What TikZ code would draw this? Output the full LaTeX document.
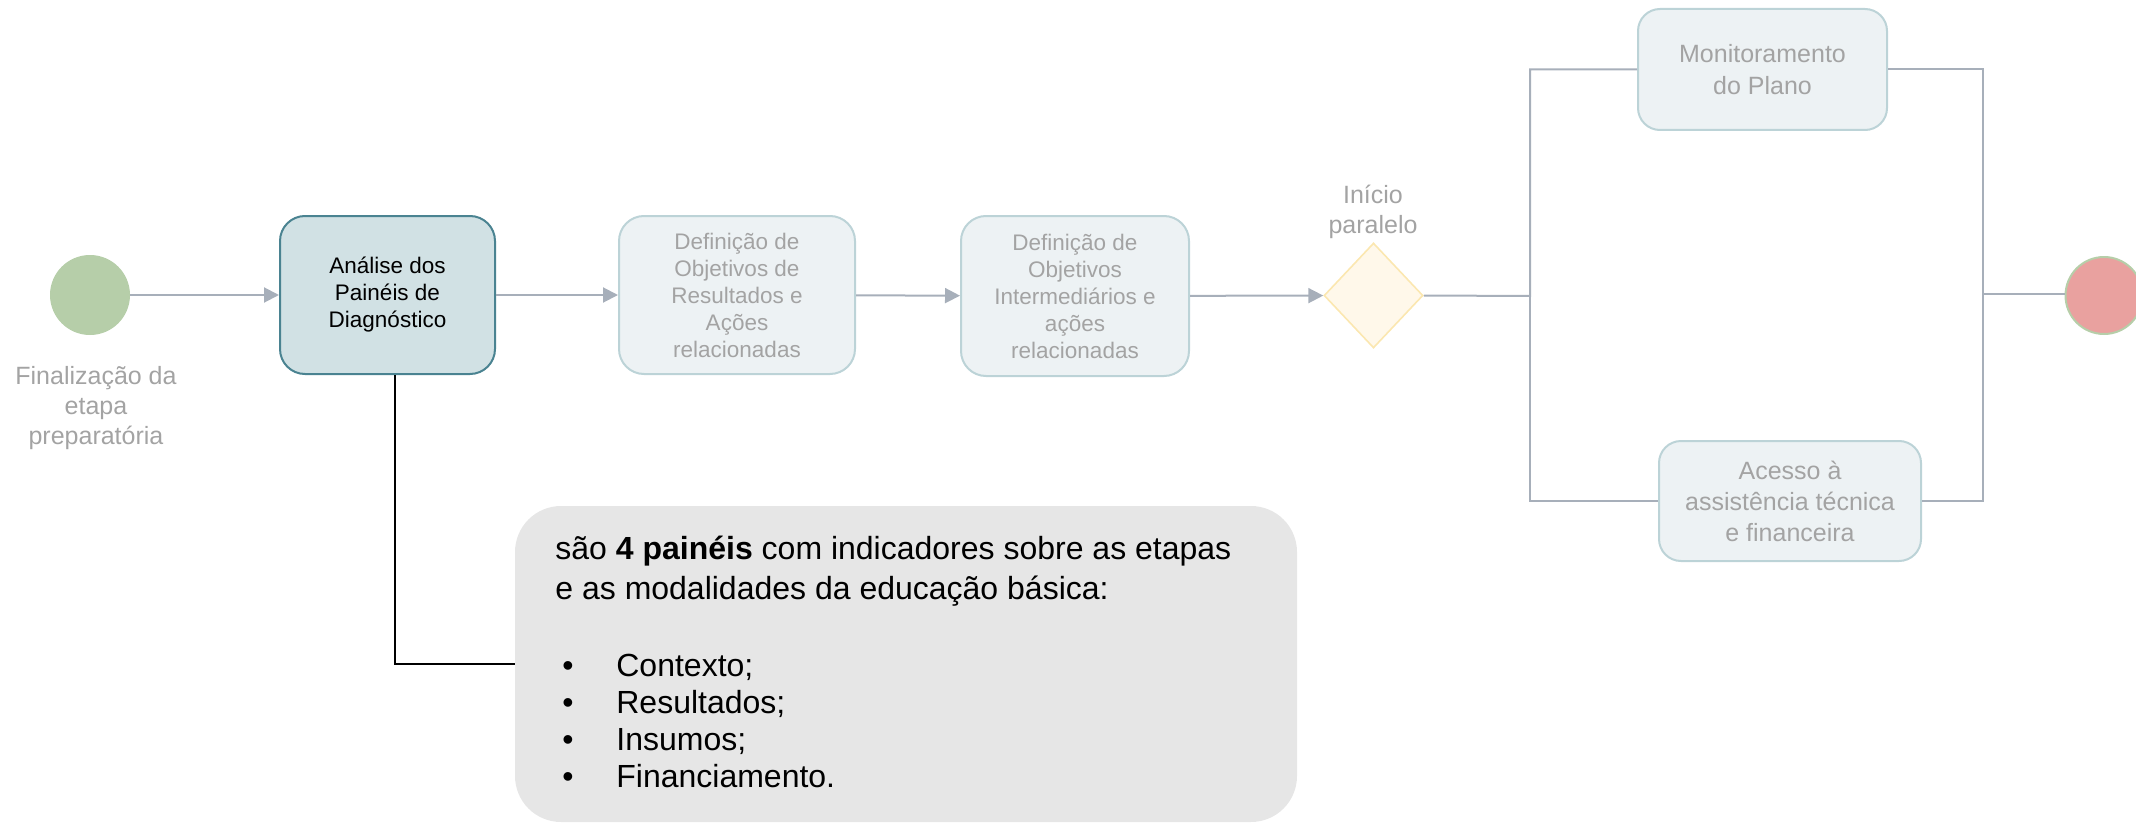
\documentclass[tikz,border=0pt]{standalone}
\usepackage{fontspec}
\setmainfont{Liberation Sans}
\usetikzlibrary{arrows.meta,shapes.geometric}
\definecolor{lineg}{HTML}{A7AFBA}
\definecolor{txtg}{HTML}{A3A3A3}
\definecolor{startg}{HTML}{B6CEA9}
\definecolor{endr}{HTML}{E9A19F}
\definecolor{afill}{HTML}{D1E1E4}
\definecolor{adraw}{HTML}{4A8391}
\definecolor{bfill}{HTML}{EDF2F4}
\definecolor{bdraw}{HTML}{BCD3D7}
\definecolor{dfill}{HTML}{FFF8EA}
\definecolor{ddraw}{HTML}{FBE7B0}
\definecolor{notefill}{HTML}{E6E6E6}
\tikzset{
  flow/.style={draw=lineg, line width=1pt},
  flowarrow/.style={flow, -{Triangle[length=7.5pt,width=7.5pt]}},
  taskbox/.style={rectangle, rounded corners=12.5pt, draw=bdraw, fill=bfill, line width=1pt,
    inner sep=0pt, align=center, text=txtg, font=\fontsize{11.25}{13.5}\selectfont},
  mainbox/.style={taskbox, draw=adraw, fill=afill, text=black},
  sidebox/.style={taskbox, rounded corners=11pt, font=\fontsize{12.5}{15.5}\selectfont},
  lbl/.style={align=center, text=txtg, inner sep=0pt, font=\fontsize{12.5}{15}\selectfont},
  notebox/.style={rectangle, rounded corners=23pt, fill=notefill, inner sep=0pt,
    minimum width=391pt, minimum height=158pt},
}
\begin{document}
\begin{tikzpicture}[x=0.5pt,y=-0.5pt]
\useasboundingbox (0,0) rectangle (2136,824);
% events
\node[circle, fill=startg, minimum size=40pt, inner sep=0pt] (start) at (90,295) {};
\node[lbl] (startlbl) at (96,408) {Finalização da\\etapa\\preparatória};
\node[circle, fill=endr, draw=startg, line width=1pt, minimum size=38.5pt, inner sep=0pt] (end) at (2104,295.5) {};
% tasks
\node[mainbox, minimum width=107.5pt, minimum height=79pt] (A) at (387.5,295) {Análise dos\\Painéis de\\Diagnóstico};
\node[taskbox, minimum width=118pt, minimum height=79pt] (D1) at (737,295) {Definição de\\Objetivos de\\Resultados e\\Ações\\relacionadas};
\node[taskbox, minimum width=114pt, minimum height=80pt] (D2) at (1075,296) {Definição de\\Objetivos\\Intermediários e\\ações\\relacionadas};
% gateway
\node[diamond, aspect=0.94, fill=dfill, draw=ddraw, line width=0.8pt, minimum width=49.5pt, minimum height=52.5pt, inner sep=0pt] (G) at (1373.5,295.5) {};
\node[lbl] (Glbl) at (1373,212) {Início\\paralelo};
% parallel tasks
\node[sidebox, minimum width=124.5pt, minimum height=60.5pt, font=\fontsize{12.5}{16}\selectfont] (M) at (1762.5,69.5) {Monitoramento\\do Plano};
\node[sidebox, minimum width=131pt, minimum height=60pt] (S) at (1790,501) {Acesso à\\assistência técnica\\e financeira};
% note
\node[notebox] (note) at (906,664) {};
\node[anchor=north west, inner sep=0pt, align=left, font=\fontsize{16}{20}\selectfont] (notetxt) at (555,536)
 {são \textbf{4 painéis} com indicadores sobre as etapas\\
  e as modalidades da educação básica:\\[18.5pt]
  \makebox[30.5pt][l]{\hspace{3.5pt}•}Contexto;\\[-1.5pt]
  \makebox[30.5pt][l]{\hspace{3.5pt}•}Resultados;\\[-1.5pt]
  \makebox[30.5pt][l]{\hspace{3.5pt}•}Insumos;\\[-1.5pt]
  \makebox[30.5pt][l]{\hspace{3.5pt}•}Financiamento.};
% connectors
\draw[flowarrow] (start) -- (A);
\draw[flowarrow] (A) -- (D1);
\draw[flowarrow] (D1) -- (D2);
\draw[flowarrow] (D2) -- (G);
\coordinate (split) at (1530,296);
\coordinate (join) at (1983,294);
\draw[flow] (G.east) -- (split) |- (M.west);
\draw[flow] (split) |- (S.west);
\draw[flow] (M.east) -| (join) -- (end.west |- join);
\draw[flow] (S.east) -| (join);
\draw[black, line width=0.8pt] ([xshift=3.75pt]A.south) |- (note.west);
\end{tikzpicture}
\end{document}
